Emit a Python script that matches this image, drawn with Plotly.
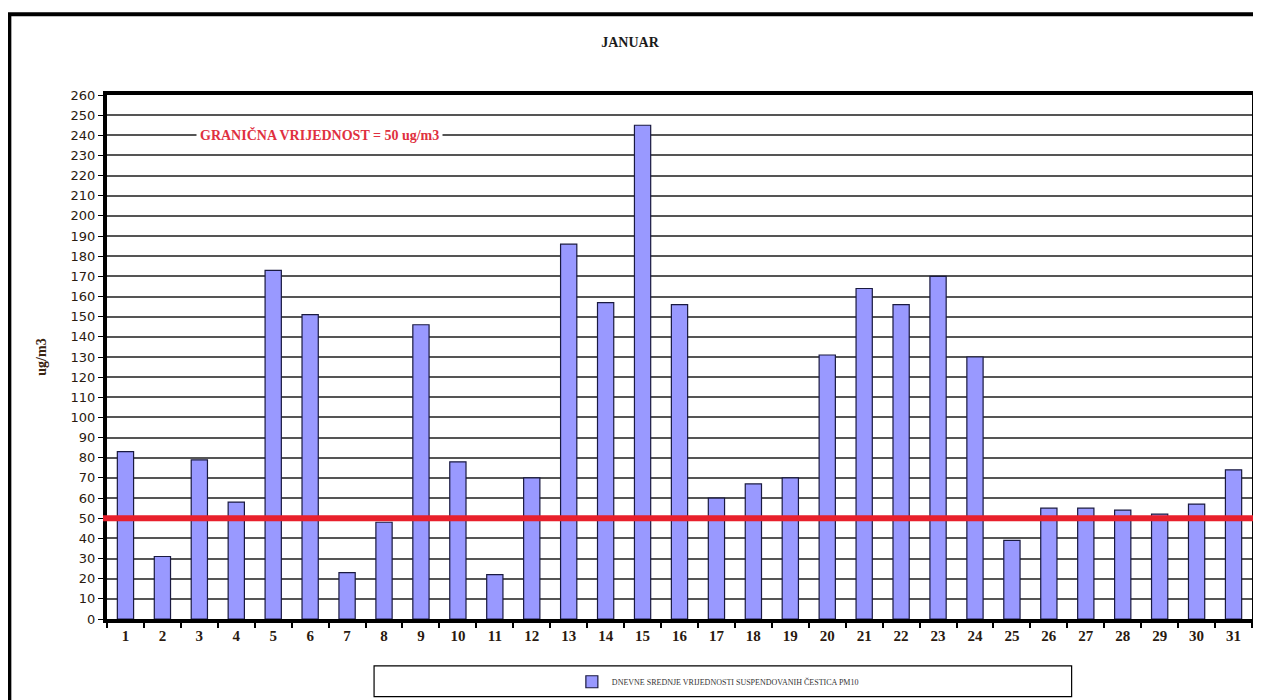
import plotly.graph_objects as go

days = [str(d) for d in range(1, 32)]
pm10 = [83, 31, 79, 58, 173, 151, 23, 48, 146, 78, 22, 70, 186, 157, 245, 156,
        60, 67, 70, 131, 164, 156, 170, 130, 39, 55, 55, 54, 52, 57, 74]
LIMIT = 50
series_name = "DNEVNE SREDNJE VRIJEDNOSTI SUSPENDOVANIH ČESTICA PM10"
limit_label = "GRANIČNA VRIJEDNOST = 50 ug/m3"
y_ticks = list(range(0, 261, 10))

W, H = 1253, 693
PW, PH = 1149, 526  # plot area size in px


def px(x):
    return (x - 107) / PW


def py(y):
    return (620 - y) / PH


fig = go.Figure()
fig.add_trace(go.Bar(
    x=days, y=pm10, name=series_name,
    marker=dict(color="#9999ff", line=dict(color="#1a1a40", width=1.2)),
    showlegend=True,
))

fig.update_layout(
    width=W, height=H,
    paper_bgcolor="white", plot_bgcolor="white",
    margin=dict(l=99, r=5, t=87, b=80),
    bargap=0.56,
    title=dict(text="<b>JANUAR</b>", xref="container", x=(630 - 8) / W, xanchor="center",
               yref="container", y=1 - (41 - 7) / H, yanchor="middle",
               font=dict(family="Liberation Serif", size=14, color="#1a1a1a")),
    showlegend=True,
    legend=dict(orientation="h", x=px(720), xanchor="center", y=py(683), yanchor="middle",
                font=dict(family="Liberation Serif", size=8, color="#333333"),
                bgcolor="rgba(0,0,0,0)", itemwidth=30),
    xaxis=dict(type="category", tickson="boundaries", ticks="outside", ticklen=5,
               tickcolor="black", tickwidth=1.5, showgrid=False,
               showline=True, linecolor="black", linewidth=4, mirror=True,
               tickfont=dict(family="Liberation Serif", size=15, color="#2a1a10"),
               range=[-0.5, 30.5]),
    yaxis=dict(range=[0, 260], tickvals=y_ticks, ticks="outside", ticklen=5,
               tickcolor="black", showgrid=True, gridcolor="#555555", gridwidth=1.5,
               showline=True, linecolor="black", linewidth=4, mirror=True,
               zeroline=False,
               tickfont=dict(family="DejaVu Sans", size=13, color="#2a1a10"),
               title=dict(text="<b>ug/m3</b>", standoff=22,
                          font=dict(family="Liberation Serif", size=14, color="#3a2410"))),
)

# bold x tick labels
fig.update_xaxes(ticktext=["<b>" + d + "</b>" for d in days], tickvals=days)

# limit line
fig.add_shape(type="line", xref="paper", yref="y", x0=px(103), x1=1.01, y0=LIMIT, y1=LIMIT,
              line=dict(color="#e8202c", width=6), layer="above")

# limit label
fig.add_annotation(text="<b>" + limit_label + "</b>", xref="paper", yref="y",
                   x=px(320), xanchor="center", y=240, showarrow=False, bgcolor="white",
                   borderpad=3,
                   font=dict(family="Liberation Serif", size=14, color="#e03040"))

# outer frame
fig.add_shape(type="rect", xref="paper", yref="paper",
              x0=px(9), x1=1.05, y0=-0.3, y1=py(13),
              line=dict(color="black", width=4), layer="below")

# legend box
fig.add_shape(type="rect", xref="paper", yref="paper",
              x0=px(375), x1=px(1075), y0=py(698), y1=py(667),
              line=dict(color="black", width=1.2), fillcolor="white", layer="below")

fig.write_html("out.html")
